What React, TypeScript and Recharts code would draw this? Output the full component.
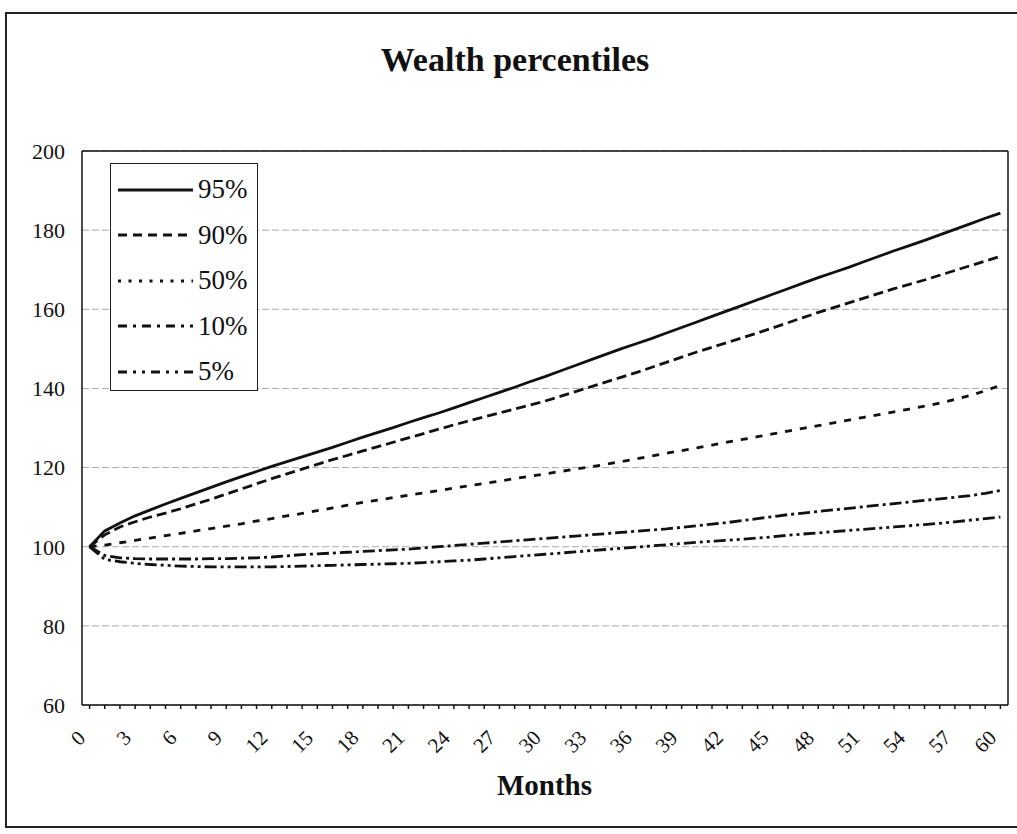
import React from 'react';
import { LineChart, Line, XAxis, YAxis, CartesianGrid, ReferenceLine } from 'recharts';

const months = [
  0, 1, 2, 3, 4, 5, 6, 7, 8, 9, 10, 11, 12, 13, 14, 15, 16, 17, 18, 19, 20,
  21, 22, 23, 24, 25, 26, 27, 28, 29, 30, 31, 32, 33, 34, 35, 36, 37, 38, 39, 40,
  41, 42, 43, 44, 45, 46, 47, 48, 49, 50, 51, 52, 53, 54, 55, 56, 57, 58, 59, 60,
];

const p95 = [
  100, 104, 106, 107.8, 109.3, 110.8, 112.2, 113.6, 115, 116.4, 117.7, 119, 120.3, 121.5, 122.7, 123.9, 125.1, 126.4, 127.7, 128.9, 130.1,
  131.4, 132.6, 133.8, 135.1, 136.4, 137.7, 139, 140.3, 141.7, 143, 144.4, 145.8, 147.2, 148.6, 150, 151.3, 152.6, 154, 155.4, 156.8,
  158.2, 159.6, 161, 162.4, 163.8, 165.2, 166.6, 168, 169.3, 170.6, 172, 173.4, 174.8, 176.1, 177.4, 178.8, 180.2, 181.6, 183, 184.3,
];

const p90 = [
  100, 103, 105, 106.3, 107.5, 108.5, 109.6, 110.8, 112, 113.3, 114.6, 115.9, 117.2, 118.4, 119.6, 120.8, 122, 123.1, 124.2, 125.3, 126.4,
  127.5, 128.6, 129.7, 130.8, 131.8, 132.8, 133.8, 134.8, 135.8, 136.8, 138, 139.2, 140.4, 141.6, 142.8, 144, 145.3, 146.6, 147.9, 149.2,
  150.4, 151.6, 152.8, 154, 155.3, 156.6, 157.9, 159.2, 160.4, 161.6, 162.8, 164, 165.2, 166.3, 167.4, 168.6, 169.8, 171, 172.2, 173.4,
];

const p50 = [
  100, 100.4, 101, 101.6, 102.2, 102.8, 103.4, 104, 104.6, 105.2, 105.8, 106.5, 107.1, 107.8, 108.4, 109.1, 109.8, 110.5, 111.2, 111.8, 112.4,
  113, 113.6, 114.2, 114.8, 115.4, 116, 116.6, 117.2, 117.8, 118.4, 119, 119.6, 120.2, 120.8, 121.5, 122.2, 122.9, 123.6, 124.3, 125,
  125.7, 126.4, 127.1, 127.8, 128.5, 129.2, 129.9, 130.6, 131.3, 132, 132.7, 133.4, 134.1, 134.8, 135.5, 136.3, 137.2, 138.2, 139.4, 140.8,
];

const p10 = [
  100, 97.8, 97.2, 97, 96.9, 96.9, 96.9, 96.9, 97, 97, 97.1, 97.2, 97.4, 97.7, 98, 98.2, 98.4, 98.6, 98.8, 99, 99.2,
  99.4, 99.7, 100, 100.3, 100.6, 100.9, 101.2, 101.5, 101.8, 102.1, 102.4, 102.7, 103, 103.3, 103.6, 103.9, 104.2, 104.5, 104.9, 105.3,
  105.7, 106.1, 106.6, 107.1, 107.6, 108.1, 108.5, 108.9, 109.3, 109.7, 110.1, 110.5, 110.9, 111.3, 111.7, 112.1, 112.5, 112.9, 113.5, 114.2,
];

const p5 = [
  100, 96.8, 96.2, 95.8, 95.5, 95.3, 95.1, 95, 94.9, 94.9, 94.9, 94.9, 94.9, 95, 95.1, 95.2, 95.3, 95.4, 95.5, 95.6, 95.7,
  95.8, 96, 96.2, 96.4, 96.6, 96.9, 97.2, 97.5, 97.8, 98.1, 98.4, 98.7, 99, 99.3, 99.6, 99.9, 100.2, 100.5, 100.8, 101.1,
  101.4, 101.6, 101.9, 102.2, 102.5, 102.9, 103.2, 103.5, 103.8, 104.1, 104.4, 104.7, 105, 105.3, 105.6, 105.9, 106.3, 106.7, 107.1, 107.5,
];

const yTicks = [60, 80, 100, 120, 140, 160, 180, 200];

const series = [
  { key: 'p95', name: '95%', values: p95, dash: undefined, legendDash: undefined },
  { key: 'p90', name: '90%', values: p90, dash: '10 5', legendDash: '9 6' },
  { key: 'p50', name: '50%', values: p50, dash: '7 8', legendDash: '3 7.5' },
  { key: 'p10', name: '10%', values: p10, dash: '12 4 3 4', legendDash: '9 6 3 6' },
  { key: 'p5', name: '5%', values: p5, dash: '12 4 3 4 3 4', legendDash: '9 6 3 6 3 6' },
];

const data = months.map((m, i) => {
  const row: Record<string, number> = { month: m };
  series.forEach(s => { row[s.key] = s.values[i]; });
  return row;
});

const FONT = '"Liberation Serif", "Times New Roman", serif';

const MonthTick = (props: any) => {
  const { x, y, payload } = props;
  if (payload.value % 3 !== 0) return null;
  const tx = x - 8;
  const ty = y + 23;
  return (
    <text x={tx} y={ty} textAnchor="end" fontFamily={FONT} fontSize={21} fill="#111"
      transform={`rotate(-45 ${tx} ${ty})`} dy="0.35em">
      {payload.value}
    </text>
  );
};

const LegendBox = () => (
  <div style={{
    position: 'absolute', left: 110, top: 163, width: 148, height: 228,
    border: '1px solid #222', background: '#fff', fontFamily: FONT, fontSize: 27,
    color: '#111', boxSizing: 'border-box', paddingTop: 3,
  }}>
    {series.map(s => (
      <div key={s.key} style={{ display: 'flex', alignItems: 'center', height: 45.5 }}>
        <svg width={80} height={10} style={{ marginLeft: 7 }}>
          <line x1={0} y1={5} x2={75} y2={5} stroke="#111" strokeWidth={2.8} strokeDasharray={s.legendDash} />
        </svg>
        <span style={{ lineHeight: 1 }}>{s.name}</span>
      </div>
    ))}
  </div>
);

export default function App() {
  return (
    <div style={{ position: 'absolute', left: 0, top: 0, width: 1017, height: 834, background: '#fff', overflow: 'hidden' }}>
      <div style={{
        position: 'absolute', left: 5, top: 12, width: 1030, height: 816,
        border: '2px solid #222', boxSizing: 'border-box',
      }} />
      <div style={{
        position: 'absolute', left: 0, width: 1030, top: 43, textAlign: 'center',
        fontFamily: FONT, fontWeight: 'bold', fontSize: 34, lineHeight: 1, color: '#111',
      }}>
        Wealth percentiles
      </div>
      <div style={{
        position: 'absolute', left: 81, width: 927, top: 771, textAlign: 'center',
        fontFamily: FONT, fontWeight: 'bold', fontSize: 29, lineHeight: 1, color: '#111',
      }}>
        Months
      </div>
      <div style={{ position: 'absolute', left: 0, top: 0 }}>
        <LineChart width={1017} height={834} data={data}
          margin={{ top: 151, right: 9, bottom: 99, left: 0 }}>
          <CartesianGrid vertical={false} stroke="#aaa" strokeDasharray="7 3" />
          <XAxis dataKey="month" type="number" domain={[-0.5, 60.5]} ticks={months} interval={0}
            tick={<MonthTick />} tickSize={4} stroke="#111" strokeWidth={1.5} height={30} />
          <YAxis domain={[60, 200]} ticks={yTicks} width={82} tickLine={false} tickSize={0} tickMargin={17}
            stroke="#111" strokeWidth={1.5}
            tick={{ fontFamily: FONT, fontSize: 22, fill: '#111' }} />
          <ReferenceLine y={200} stroke="#111" strokeWidth={1.5} />
          <ReferenceLine x={60.5} stroke="#111" strokeWidth={1.5} />
          {series.map(s => (
            <Line key={s.key} dataKey={s.key} name={s.name} type="linear" stroke="#111" strokeWidth={2.8}
              strokeDasharray={s.dash} dot={false} isAnimationActive={false} />
          ))}
        </LineChart>
      </div>
      <LegendBox />
    </div>
  );
}
